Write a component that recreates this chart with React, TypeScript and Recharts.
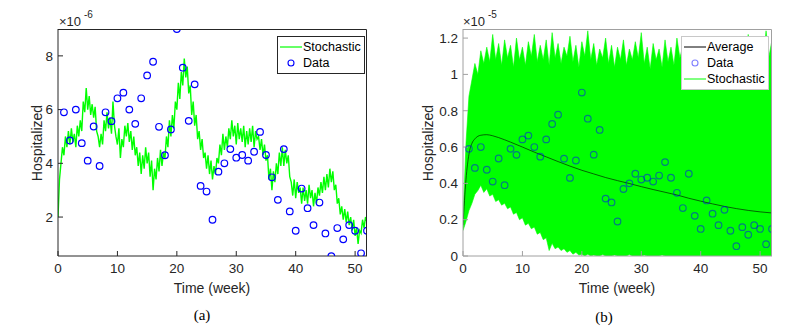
import { ComposedChart, Line, Area, Scatter, XAxis, YAxis } from 'recharts'

// observed weekly hospitalized data, in units of 1e-6
const dataWeeks = [
  1, 2, 3, 4, 5, 6, 7, 8, 9, 10, 11, 12, 13, 14, 15, 16, 17, 18, 19, 20, 21, 22, 23, 24, 25, 26,
  27, 28, 29, 30, 31, 32, 33, 34, 35, 36, 37, 38, 39, 40, 41, 42, 43, 44, 45, 46, 47, 48, 49, 50, 51, 52,
]
const hospitalData = [
  5.9, 4.85, 6.0, 4.75, 4.1, 5.37, 3.9, 5.9, 5.57, 6.42, 6.63, 6.0, 5.47, 6.42, 7.27, 7.78, 5.36,
  4.3, 5.26, 9.0, 7.56, 5.58, 6.94, 3.16, 2.95, 1.9, 3.69, 4.0, 4.53, 4.21, 4.31, 4.1, 4.43, 5.17,
  4.31, 3.48, 2.64, 4.53, 2.21, 1.49, 3.06, 2.33, 1.7, 2.54, 1.39, 0.54, 1.59, 1.17, 1.7, 1.49, 0.65, 1.49,
]

// single stochastic path (a), one value every 0.25 week, units 1e-6
const pathStep = 0.25
const stochasticPath = [
  2.0, 3.4, 4.0, 4.6, 4.3, 5.0, 4.6, 5.2, 4.7, 5.3, 4.8, 5.1, 4.6, 5.4, 5.0, 5.6,
  5.2, 6.3, 5.9, 6.8, 6.0, 6.5, 5.8, 6.2, 5.7, 6.1, 5.2, 5.0, 4.6, 5.1, 4.7, 5.6,
  5.2, 5.9, 5.3, 5.7, 5.1, 6.3, 5.4, 5.0, 4.7, 5.3, 4.2, 4.9, 4.6, 5.4, 5.0, 5.5,
  4.8, 5.2, 4.5, 5.0, 4.3, 4.6, 3.9, 4.4, 3.6, 4.3, 3.8, 4.6, 4.0, 4.4, 3.5, 4.1,
  3.0, 3.8, 3.4, 4.2, 3.7, 4.5, 3.9, 4.4, 4.2, 5.0, 4.6, 5.6, 5.0, 5.8, 5.3, 6.3,
  6.0, 7.0, 6.4, 7.4, 6.9, 7.9, 7.2, 7.6, 6.6, 6.9, 5.8, 6.3, 5.4, 5.8, 4.9, 5.2,
  4.5, 4.9, 4.2, 4.4, 3.8, 4.3, 3.6, 4.1, 3.4, 3.9, 3.6, 4.2, 4.0, 4.7, 4.3, 5.1,
  4.5, 5.0, 4.6, 5.3, 4.9, 5.6, 5.0, 5.4, 4.7, 5.5, 4.9, 5.3, 4.8, 5.4, 4.6, 5.2,
  4.7, 5.3, 4.8, 5.4, 4.6, 5.2, 4.9, 5.0, 4.5, 4.9, 4.3, 4.7, 4.1, 4.3, 3.4, 3.8,
  3.0, 3.7, 3.3, 4.0, 3.6, 4.4, 3.9, 4.6, 3.9, 4.5, 4.0, 4.3, 3.5, 3.3, 2.8, 3.4,
  2.7, 3.3, 2.9, 3.1, 2.5, 3.1, 2.6, 3.0, 2.5, 3.2, 2.7, 3.0, 2.4, 2.9, 2.5, 3.1,
  2.8, 3.3, 2.9, 3.5, 3.0, 3.6, 3.1, 3.8, 3.3, 3.7, 3.0, 3.2, 2.5, 2.7, 2.1, 2.4,
  1.9, 2.3, 1.8, 2.2, 1.7, 2.0, 1.5, 1.9, 1.3, 1.6, 1.0, 1.5, 1.4, 1.9, 1.6, 2.0,
  1.8,
]

// envelope of all stochastic runs (b), one value every 0.5 week, units 1e-5
const bandStep = 0.5
const bandUpper = [
  0.2, 0.62, 0.88, 0.97, 1.06, 1.0, 1.13, 1.06, 1.15, 1.07, 1.22, 1.08, 1.17, 1.05, 1.19, 1.09,
  1.16, 1.04, 1.2, 1.08, 1.15, 1.05, 1.18, 1.1, 1.22, 1.07, 1.16, 1.08, 1.19, 1.05, 1.23, 1.09,
  1.17, 1.06, 1.15, 1.1, 1.21, 1.07, 1.16, 1.04, 1.18, 1.1, 1.24, 1.08, 1.17, 1.05, 1.14, 1.09,
  1.2, 1.06, 1.16, 1.04, 1.15, 1.08, 1.19, 1.05, 1.14, 1.08, 1.18, 1.09, 1.23, 1.06, 1.15, 1.03,
  1.17, 1.08, 1.14, 1.04, 1.19, 1.07, 1.15, 1.05, 1.2, 1.09, 1.16, 1.06, 1.13, 1.03, 1.17, 1.08,
  1.14, 1.04, 1.16, 1.06, 1.13, 1.02, 1.15, 1.07, 1.18, 1.05, 1.14, 1.08, 1.17, 1.04, 1.13, 1.06,
  1.22, 1.07, 1.15, 1.05, 1.16, 1.08, 1.24, 1.1, 1.19,
]
const bandLower = [
  0.14, 0.19, 0.25, 0.29, 0.34, 0.36, 0.39, 0.35, 0.37, 0.33, 0.34, 0.3, 0.31, 0.28, 0.29, 0.26,
  0.27, 0.23, 0.24, 0.2, 0.21, 0.17, 0.18, 0.15, 0.16, 0.12, 0.13, 0.09, 0.1, 0.03, 0.07, 0.04,
  0.05, 0.03, 0.04, 0.02, 0.03, 0.01, 0.02, 0.005, 0.01, 0, 0.01, 0, 0.005, 0, 0, 0.008,
  0, 0, 0, 0.006, 0, 0, 0, 0, 0.008, 0, 0, 0, 0, 0.005, 0, 0, 0, 0,
  0, 0.006, 0, 0, 0, 0, 0, 0, 0, 0, 0, 0, 0, 0, 0, 0,
  0, 0, 0, 0, 0, 0, 0, 0, 0, 0, 0, 0, 0, 0, 0, 0,
  0, 0, 0, 0, 0, 0, 0, 0, 0,
]

// mean of the stochastic runs (b), units 1e-5
const averageWeeks = [0, 0.5, 1, 1.5, 2, 3, 4, 5, 6, 8, 10, 12, 14, 16, 18, 20, 22, 24, 26, 28, 30, 32, 34, 36, 38, 40, 42, 44, 46, 48, 50, 52]
const averageValues = [
  0.17, 0.42, 0.56, 0.62, 0.645, 0.665, 0.668, 0.662, 0.652, 0.627, 0.6, 0.572, 0.546, 0.52, 0.495,
  0.472, 0.452, 0.432, 0.415, 0.399, 0.382, 0.366, 0.351, 0.336, 0.318, 0.302, 0.287, 0.273, 0.261,
  0.251, 0.243, 0.237,
]

const weekTicks = [0, 10, 20, 30, 40, 50]
const leftYTicks = [2, 4, 6, 8]
const rightYTicks = [0, 0.2, 0.4, 0.6, 0.8, 1, 1.2]

const pathRows = stochasticPath.map((v, i) => ({ week: i * pathStep, value: v }))
const bandRows = bandUpper.map((v, i) => ({ week: i * bandStep, range: [bandLower[i], v] }))
const averageRows = averageWeeks.map((w, i) => ({ week: w, value: averageValues[i] }))
const pointsA = dataWeeks.map((w, i) => ({ week: w, value: hospitalData[i] }))
const pointsB = dataWeeks.map((w, i) => ({ week: w, value: hospitalData[i] / 10 }))

const FONT = '"Liberation Sans", Arial, Helvetica, sans-serif'
const GREEN = '#00ff00'
const X_MAX = 52
const DARK_AXIS = '#262626'
const GREY_AXIS = '#a0a0a0'

function abs(left: number, top: number, extra: React.CSSProperties = {}): React.CSSProperties {
  return { position: 'absolute', left, top, lineHeight: 1, whiteSpace: 'nowrap', ...extra }
}

function Circle(color: string, opacity: number) {
  return (props: any) => (
    <circle
      cx={props.cx}
      cy={props.cy}
      r={3.3}
      fill="none"
      stroke={color}
      strokeOpacity={opacity}
      strokeWidth={1.2}
    />
  )
}

const tickFont = { fill: '#262626', fontSize: 13.5, fontFamily: FONT }

function LegendLine({ color, width = 1 }: { color: string; width?: number }) {
  return (
    <svg width={22} height={10} style={{ display: 'block' }}>
      <line x1={0} y1={5} x2={22} y2={5} stroke={color} strokeWidth={width} />
    </svg>
  )
}

function LegendCircle({ color, opacity }: { color: string; opacity: number }) {
  return (
    <svg width={22} height={10} style={{ display: 'block' }}>
      <circle cx={11} cy={5} r={3} fill="none" stroke={color} strokeOpacity={opacity} strokeWidth={1.1} />
    </svg>
  )
}

function LegendBox({
  left,
  top,
  border,
  items,
}: {
  left: number
  top: number
  border: string
  items: { label: string; icon: React.ReactNode }[]
}) {
  return (
    <div
      style={abs(left, top, {
        background: '#fff',
        border: `1px solid ${border}`,
        padding: '2px 3px 2px 2px',
        fontSize: 12.5,
        color: '#000',
      })}
    >
      {items.map((it) => (
        <div key={it.label} style={{ display: 'flex', alignItems: 'center', gap: 1, height: 16 }}>
          {it.icon}
          <span>{it.label}</span>
        </div>
      ))}
    </div>
  )
}

export default function App() {
  return (
    <div
      style={{
        position: 'absolute',
        left: 0,
        top: 0,
        width: 795,
        height: 333,
        background: '#fff',
        fontFamily: FONT,
        color: '#262626',
        overflow: 'hidden',
      }}
    >
      {/* (a) single path */}
      <div style={abs(0, 0)}>
        <ComposedChart width={380} height={300} data={pathRows} margin={{ top: 29, right: 13, bottom: 0, left: 0 }}>
          <XAxis
            type="number"
            dataKey="week"
            domain={[0, X_MAX]}
            ticks={weekTicks}
            allowDataOverflow
            height={44}
            tickSize={-5}
            tickMargin={12}
            tick={tickFont}
            axisLine={{ stroke: DARK_AXIS }}
            tickLine={{ stroke: DARK_AXIS }}
          />
          <YAxis
            type="number"
            domain={[0.55, 9]}
            ticks={leftYTicks}
            allowDataOverflow
            width={58}
            tickSize={-5}
            tickMargin={10}
            tick={tickFont}
            axisLine={{ stroke: DARK_AXIS }}
            tickLine={{ stroke: DARK_AXIS }}
          />
          <Line
            type="linear"
            dataKey="value"
            stroke={GREEN}
            strokeWidth={1.4}
            dot={false}
            isAnimationActive={false}
          />
          <Scatter data={pointsA} dataKey="value" shape={Circle('#0000ff', 1)} isAnimationActive={false} />
        </ComposedChart>
      </div>

      {/* (b) all runs */}
      <div style={abs(400, 0)}>
        <ComposedChart width={380} height={300} data={bandRows} margin={{ top: 29, right: 8, bottom: 0, left: 0 }}>
          <XAxis
            type="number"
            dataKey="week"
            domain={[0, X_MAX]}
            ticks={weekTicks}
            allowDataOverflow
            height={44}
            tickSize={-5}
            tickMargin={12}
            tick={tickFont}
            axisLine={{ stroke: GREY_AXIS }}
            tickLine={{ stroke: GREY_AXIS }}
          />
          <YAxis
            type="number"
            domain={[0, 1.25]}
            ticks={rightYTicks}
            allowDataOverflow
            width={63}
            tickSize={-5}
            tickMargin={10}
            tick={tickFont}
            axisLine={{ stroke: GREY_AXIS }}
            tickLine={{ stroke: GREY_AXIS }}
          />
          <Area
            type="linear"
            dataKey="range"
            stroke={GREEN}
            strokeWidth={0.6}
            fill={GREEN}
            fillOpacity={1}
            dot={false}
            activeDot={false}
            isAnimationActive={false}
          />
          <Line
            data={averageRows}
            type="monotone"
            dataKey="value"
            stroke="#000"
            strokeOpacity={0.6}
            strokeWidth={1}
            dot={false}
            isAnimationActive={false}
          />
          <Scatter data={pointsB} dataKey="value" shape={Circle('#0000ff', 0.5)} isAnimationActive={false} />
        </ComposedChart>
      </div>

      {/* upper and right edges of both axes boxes */}
      <svg width={795} height={333} style={{ position: 'absolute', left: 0, top: 0, pointerEvents: 'none' }}>
        <polyline points="58,29.5 366.5,29.5 366.5,256" fill="none" stroke={DARK_AXIS} strokeWidth={1} />
        <polyline points="463,29.5 771.5,29.5 771.5,256" fill="none" stroke={GREY_AXIS} strokeWidth={1} />
      </svg>

      {/* exponent labels */}
      <span style={abs(59, 15, { fontSize: 13 })}>×10</span>
      <span style={abs(84, 10, { fontSize: 10 })}>-6</span>
      <span style={abs(463, 15, { fontSize: 13 })}>×10</span>
      <span style={abs(488, 10, { fontSize: 10 })}>-5</span>

      {/* axis titles */}
      <span style={abs(212, 288, { fontSize: 14, transform: 'translate(-50%, -50%)' })}>Time (week)</span>
      <span style={abs(617, 288, { fontSize: 14, transform: 'translate(-50%, -50%)' })}>Time (week)</span>
      <span style={abs(37, 143, { fontSize: 14, transform: 'translate(-50%, -50%) rotate(-90deg)' })}>
        Hospitalized
      </span>
      <span style={abs(428, 143, { fontSize: 14, transform: 'translate(-50%, -50%) rotate(-90deg)' })}>
        Hospitalized
      </span>

      {/* captions */}
      <span
        style={abs(202, 315, {
          fontSize: 15,
          fontFamily: '"Liberation Serif", "Times New Roman", serif',
          color: '#000',
          transform: 'translate(-50%, -50%)',
        })}
      >
        (a)
      </span>
      <span
        style={abs(604, 317, {
          fontSize: 15,
          fontFamily: '"Liberation Serif", "Times New Roman", serif',
          color: '#000',
          transform: 'translate(-50%, -50%)',
        })}
      >
        (b)
      </span>

      <LegendBox
        left={277}
        top={36}
        border="#262626"
        items={[
          { label: 'Stochastic', icon: <LegendLine color={GREEN} width={1.2} /> },
          { label: 'Data', icon: <LegendCircle color="#0000ff" opacity={1} /> },
        ]}
      />
      <LegendBox
        left={681}
        top={36}
        border="#c8c8c8"
        items={[
          { label: 'Average', icon: <LegendLine color="#000" width={1} /> },
          { label: 'Data', icon: <LegendCircle color="#0000ff" opacity={0.5} /> },
          { label: 'Stochastic', icon: <LegendLine color={GREEN} width={1} /> },
        ]}
      />
    </div>
  )
}
